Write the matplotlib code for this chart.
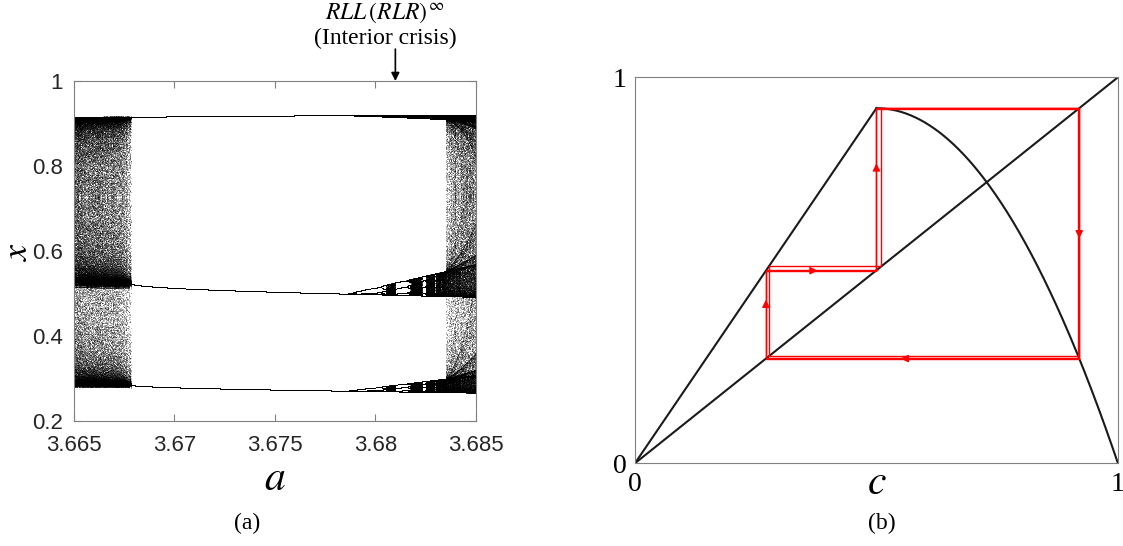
import numpy as np
import matplotlib
matplotlib.use("Agg")
import matplotlib.pyplot as plt

plt.rcParams['mathtext.fontset'] = 'stix'
plt.rcParams['font.family'] = ['Liberation Sans', 'DejaVu Sans']

# map: x -> a (1 - c) x  for x < c,  a x (1 - x) for x >= c
c = 0.5
a_min, a_max = 3.665, 3.685
n_a = 2400
n_transient = 600
n_keep = 260
a_cobweb = 3.6795
x0_cobweb = 0.5
n_cobweb = 9
a_crisis = 3.681

x_ticks = [3.665, 3.67, 3.675, 3.68, 3.685]
x_ticklabels = ['3.665', '3.67', '3.675', '3.68', '3.685']
y_ticks = [0.2, 0.4, 0.6, 0.8, 1.0]
y_ticklabels = ['0.2', '0.4', '0.6', '0.8', '1']
# where along each cobweb segment of the first loop the arrow sits (None = no arrow)
arrow_frac = [0.64, None, 0.5, 0.55, 0.65, 0.45]


def f(x, a):
    return np.where(x < c, a * (1 - c) * x, a * x * (1 - x))


fig = plt.figure(figsize=(11.23, 5.46), dpi=100)

# ---- (a) bifurcation diagram
ax1 = fig.add_axes([0.0659, 0.2284, 0.3577, 0.6232])
a_vals = np.linspace(a_min, a_max, n_a)
x = np.full(n_a, 0.3)
for _ in range(n_transient):
    x = f(x, a_vals)
pts_a, pts_x = [], []
for _ in range(n_keep):
    x = f(x, a_vals)
    pts_a.append(a_vals)
    pts_x.append(x)
pts_a = np.concatenate(pts_a)
pts_x = np.concatenate(pts_x)
ax1.scatter(pts_a, pts_x, s=0.35, c='black', marker='.', linewidths=0, rasterized=True)
ax1.set_xlim(a_min, a_max)
ax1.set_ylim(0.2, 1.0)
ax1.set_xticks(x_ticks)
ax1.set_xticklabels(x_ticklabels)
ax1.set_yticks(y_ticks)
ax1.set_yticklabels(y_ticklabels)
ax1.tick_params(direction='in', top=True, right=True, length=5, color='#808080',
                labelsize=16, labelcolor='#262626', pad=10)
ax1.tick_params(axis='y', pad=8)
for s in ax1.spines.values():
    s.set_color('#808080')
ax1.set_xlabel('$a$', fontsize=30, labelpad=2)
ax1.text(-0.14, 0.5, '$x$', fontsize=26, rotation=90, ha='center', va='center',
         transform=ax1.transAxes)

ax1.annotate('', xy=(a_crisis, 1.0), xytext=(a_crisis, 1.075),
             xycoords='data', annotation_clip=False,
             arrowprops=dict(arrowstyle='-|>', color='black', lw=1.2,
                             mutation_scale=12, shrinkA=0, shrinkB=0))
ax1.text(a_crisis - 0.0005, 1.16, r'$RLL\,(RLR)^{\,\infty}$', fontsize=17,
         ha='center', va='center', clip_on=False)
ax1.text(a_crisis - 0.0005, 1.1, '(Interior crisis)', fontsize=17, ha='center',
         va='center', family='Liberation Serif', clip_on=False)
fig.text(0.22, 0.042, '(a)', fontsize=17, ha='center', va='center', family='Liberation Serif')

# ---- (b) cobweb
ax2 = fig.add_axes([0.5654, 0.1515, 0.4301, 0.707])
xl = np.linspace(0, c, 50)
xr = np.linspace(c, 1, 200)
ax2.plot(xl, a_cobweb * (1 - c) * xl, color='#1a1a1a', lw=1.5)
ax2.plot(xr, a_cobweb * xr * (1 - xr), color='#1a1a1a', lw=1.5)
ax2.plot([0, 1], [0, 1], color='#1a1a1a', lw=1.5)

orbit = [x0_cobweb]
for _ in range(n_cobweb):
    orbit.append(float(f(np.array(orbit[-1]), a_cobweb)))
cx, cy = [orbit[0]], [orbit[0]]
for i in range(n_cobweb):
    cx += [orbit[i], orbit[i + 1]]
    cy += [orbit[i + 1], orbit[i + 1]]
ax2.plot(cx, cy, color='red', lw=1.0)

for k, frac in enumerate(arrow_frac):
    if frac is None:
        continue
    p = (cx[k], cy[k])
    q = (cx[k + 1], cy[k + 1])
    mx, my = p[0] + frac * (q[0] - p[0]), p[1] + frac * (q[1] - p[1])
    dx, dy = (q[0] - p[0]) * 0.02, (q[1] - p[1]) * 0.02
    ax2.annotate('', xy=(mx + dx, my + dy), xytext=(mx - dx, my - dy),
                 arrowprops=dict(arrowstyle='-|>', color='red', lw=1.0,
                                 mutation_scale=11, shrinkA=0, shrinkB=0))

ax2.set_xlim(0, 1)
ax2.set_ylim(0, 1)
ax2.set_xticks([0, c, 1])
ax2.set_xticklabels(['0', '', '1'], family='Liberation Serif', fontsize=20)
ax2.set_yticks([0, 1])
ax2.set_yticklabels(['0', '1'], family='Liberation Serif', fontsize=20)
ax2.tick_params(length=0, pad=6)
ax2.text(c, -0.05, '$c$', fontsize=30, ha='center', va='center')
for s in ax2.spines.values():
    s.set_color('#808080')
fig.text(0.785, 0.042, '(b)', fontsize=17, ha='center', va='center', family='Liberation Serif')

fig.savefig('out.png', dpi=100)
